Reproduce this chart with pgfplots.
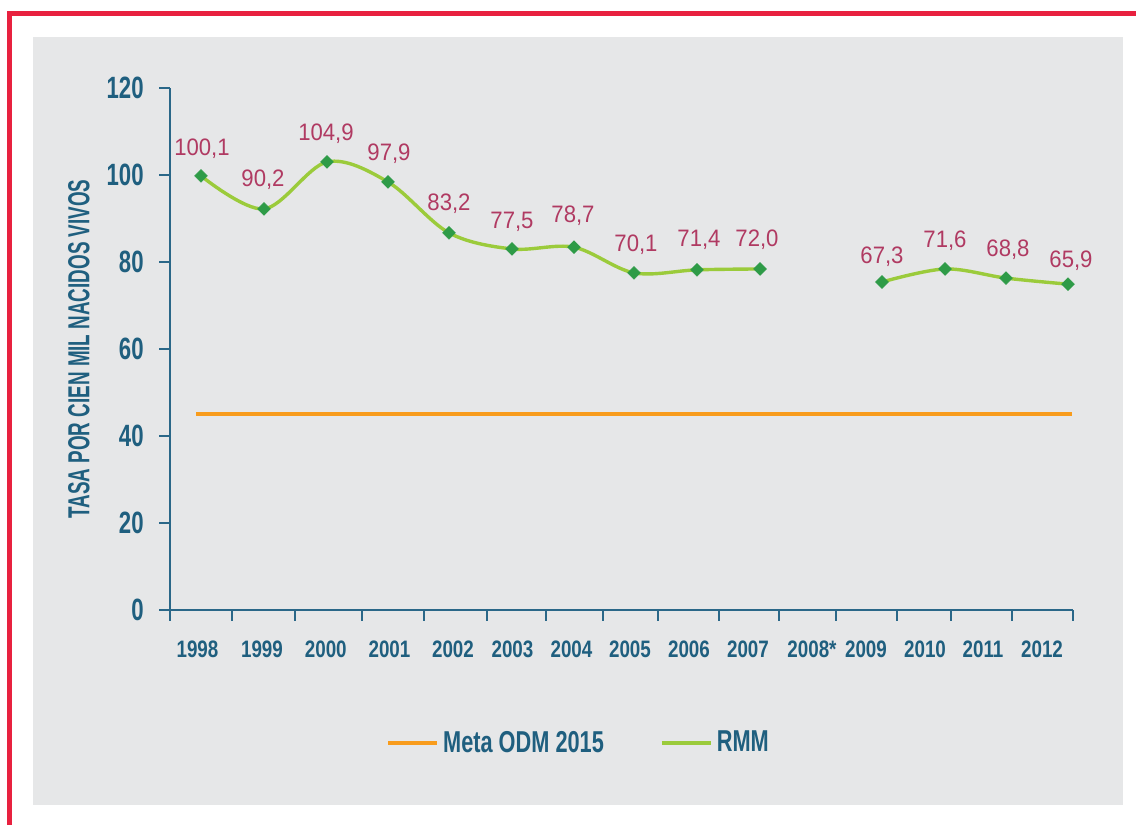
\documentclass[border=0pt]{standalone}
\usepackage{pgfplots}
\pgfplotsset{compat=1.18}
\usepackage{fontspec}
\setmainfont{Liberation Sans}
\newfontfamily\fA{Liberation Sans}[FakeStretch=0.72]
\newfontfamily\fB{Liberation Sans}[FakeStretch=0.79]
\newfontfamily\fC{Liberation Sans}[FakeStretch=0.62]
\newfontfamily\fL{Liberation Sans}[FakeStretch=0.93]
\definecolor{bluec}{HTML}{1F5F7F}
\definecolor{axisc}{HTML}{2A6788}
\definecolor{maroonc}{HTML}{B03A62}
\definecolor{greenc}{HTML}{9BCB3B}
\definecolor{dkgreen}{HTML}{2E9B47}
\definecolor{orangec}{HTML}{F89C1C}
\definecolor{bgc}{HTML}{E6E7E8}
\definecolor{redc}{HTML}{E8213F}
\begin{document}
\begin{tikzpicture}[x=1pt,y=1pt]
\useasboundingbox (0,0) rectangle (568,412.5);
\fill[bgc] (16.5,10) rectangle (561.5,394);
\draw[redc, line width=2.5pt, line join=miter] (4.75,-2) -- (4.75,405.75) -- (572,405.75);
\begin{axis}[
  at={(85pt,107.5pt)}, anchor=south west,
  scale only axis, width=451.5pt, height=261pt,
  xmin=170, xmax=1073, ymin=0, ymax=120,
  enlargelimits=false, clip=false,
  axis lines*=left,
  axis line style={axisc, line width=1.3pt},
  tick style={axisc, line width=1.3pt},
  tick align=outside,
  major tick length=0pt, minor tick length=5.5pt,
  xtick={197.5,262,325.8,389.5,453,512.5,571.5,630,689,748,812,866,925,983,1042},
  xticklabels={1998,1999,2000,2001,2002,2003,2004,2005,2006,2007,2008*,2009,2010,2011,2012},
  minor xtick={170,232,295,362,424,487,546,603,658,719,779,836,897,951,1012,1073},
  ytick={0,20,40,60,80,100,120},
  yticklabels={0,20,40,60,80,100,120},
  minor ytick={0,20,40,60,80,100,120},
  xticklabel style={anchor=center, inner sep=0pt, yshift=-19.5pt, text=bluec, font=\fB\bfseries\fontsize{11.9}{14}\selectfont},
  yticklabel style={anchor=east, inner sep=0pt, xshift=-13pt, text=bluec, font=\fA\bfseries\fontsize{15.4}{18}\selectfont},
  ylabel={TASA POR CIEN MIL NACIDOS VIVOS},
  ylabel style={at={(axis description cs:-0.1008,0.5)}, anchor=center, inner sep=0pt, text=bluec, font=\fC\bfseries\fontsize{15.2}{17}\selectfont},
  legend style={draw=none, fill=none, at={(axis description cs:0.4535,-0.2548)}, anchor=center,
    font=\fA\bfseries\fontsize{15.1}{18}\selectfont, text=bluec,
    /tikz/every even column/.append style={column sep=26pt}},
  legend columns=2,
  legend image code/.code={\draw (0pt,0pt) -- (24.5pt,0pt);},
  nodes near coords style={anchor=base, inner sep=0pt, xshift=\dx pt, yshift=\dy pt, text=maroonc, font=\fL\fontsize{11.9}{14}\selectfont},
]
\addplot[orangec, line width=2pt, forget plot] coordinates {(196,45) (1072,45)};

\addplot[greenc, line width=1.7pt, smooth, tension=0.55,
  mark=square*, mark size=2.25pt, mark options={rotate=45, fill=dkgreen, draw=dkgreen, line width=0.3pt, solid},
  nodes near coords, point meta=explicit symbolic,
  visualization depends on={\thisrow{dx} \as \dx},
  visualization depends on={\thisrow{dy} \as \dy},
  forget plot] table[x=x, y=y, meta=lab] {
x y lab dx dy
201 99.8 100,1 0.5 10.25
264 92.2 90,2 -0.5 11.25
327 103.0 104,9 -0.5 10.75
388 98.4 97,9 0.5 10.75
449 86.7 83,2 0 11.25
512 83.0 77,5 0 10.25
574 83.4 78,7 -0.5 12.25
634 77.5 70,1 1 10.75
697 78.2 71,4 1 11.75
760 78.4 72,0 -1.5 11.25
};

\addplot[greenc, line width=1.7pt, smooth, tension=0.55,
  mark=square*, mark size=2.25pt, mark options={rotate=45, fill=dkgreen, draw=dkgreen, line width=0.3pt, solid},
  nodes near coords, point meta=explicit symbolic,
  visualization depends on={\thisrow{dx} \as \dx},
  visualization depends on={\thisrow{dy} \as \dy},
  forget plot] table[x=x, y=y, meta=lab] {
x y lab dx dy
882 75.4 67,3 0 9.25
945 78.4 71,6 0 10.75
1006 76.3 68,8 1 10.75
1068 74.9 65,9 1.5 8.25
};

\addlegendimage{orangec, line width=2pt}
\addlegendentry{Meta ODM 2015}
\addlegendimage{greenc, line width=2pt}
\addlegendentry{RMM}
\end{axis}
\end{tikzpicture}
\end{document}
